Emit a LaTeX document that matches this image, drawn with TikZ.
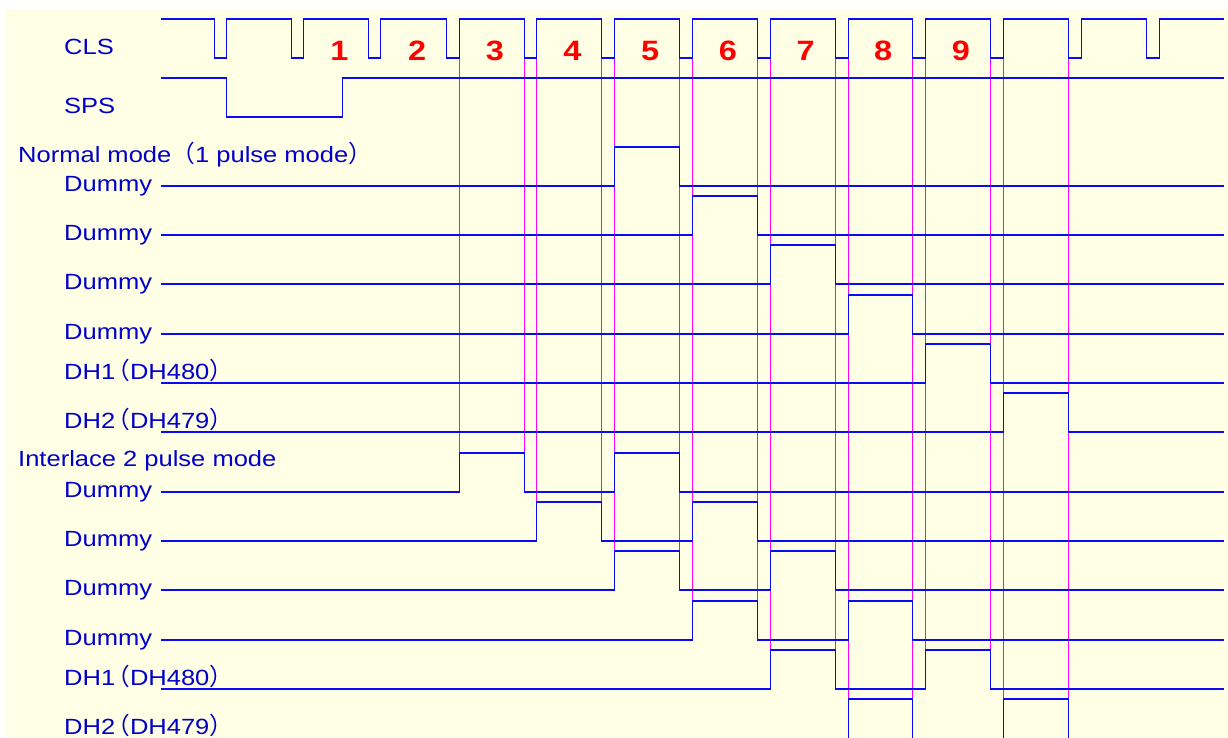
\documentclass[tikz,border=0pt]{standalone}
\usepackage{fontspec}
\setmainfont{Liberation Sans}
\newfontfamily\labf[FakeStretch=1.16]{Liberation Sans}
\newfontfamily\cjkf[Scale=1.08]{Noto Sans CJK SC}
\definecolor{bgc}{RGB}{255,255,230}
\definecolor{sigc}{RGB}{10,10,245}
\definecolor{txtc}{RGB}{0,0,200}
\definecolor{magc}{RGB}{255,0,255}
\definecolor{numc}{RGB}{255,0,0}
\tikzset{
  sig/.style={draw=sigc, line width=1.7pt, line join=miter},
  guide/.style={draw=magc, line width=1.5pt},
  lab/.style={font=\labf\fontsize{22}{24}\selectfont, text=txtc, inner sep=0pt, anchor=base west},
  num/.style={font=\labf\bfseries\fontsize{28}{30}\selectfont, text=numc, inner sep=0pt, anchor=base},
}
% #1 = low level y, #2 = list of rise/fall x pairs
\newcommand\wavrow[2]{\draw[sig] (161,#1) \foreach \a/\b in {#2}{ -- (\a,#1) -- (\a,#1-39) -- (\b,#1-39) -- (\b,#1)} -- (1224,#1);}
\begin{document}
\begin{tikzpicture}[x=1pt,y=-1pt]
\useasboundingbox (0,0) rectangle (1228,737);
\clip (0,0) rectangle (1228,737);
\fill[bgc] (5,9) rectangle (1228,737);
% guide lines at the clock edges, down to the last interlace pulse of that slot
\foreach \x/\e in {459/453,524/453,536/502,601/502,614/551,679/551,692/601,757/601,
                   770/650,835/650,848/699,912/699,925/650,990/650,1003/699,1068/699}
  \draw[guide] (\x+0.5,58) -- (\x+0.5,\e);
% CLS
\draw[sig] (161,19) \foreach \a/\b in {214/226,291/303,368/380,446/459,524/536,601/614,679/692,757/770,835/848,912/925,990/1003,1068/1081,1146/1159}
  { -- (\a+0.5,19) -- (\a+0.5,58) -- (\b+0.5,58) -- (\b+0.5,19)} -- (1224,19);
% SPS
\draw[sig] (161,78) -- (226.5,78) -- (226.5,117) -- (342.5,117) -- (342.5,78) -- (1224,78);
% normal mode (1 pulse mode)
\wavrow{186}{614.5/679.5}
\wavrow{235}{692.5/757.5}
\wavrow{284}{770.5/835.5}
\wavrow{334}{848.5/912.5}
\wavrow{383}{925.5/990.5}
\wavrow{432}{1003.5/1068.5}
% interlace 2 pulse mode
\wavrow{492}{459.5/524.5,614.5/679.5}
\wavrow{541}{536.5/601.5,692.5/757.5}
\wavrow{590}{614.5/679.5,770.5/835.5}
\wavrow{640}{692.5/757.5,848.5/912.5}
\wavrow{689}{770.5/835.5,925.5/990.5}
% last row: its low level lies below the lower edge
\draw[sig] (848.5,742) -- (848.5,699) -- (912.5,699) -- (912.5,742);
\draw[sig] (1003.5,742) -- (1003.5,699) -- (1068.5,699) -- (1068.5,742);
% numbers
\foreach \n in {1,...,9} \node[num] (n\n) at ({339.5+77.67*(\n-1)},60) {\n};
% labels
\node[lab] (cls) at (64,54.5) {CLS};
\node[lab] (sps) at (64,113) {SPS};
\node[lab] (normal) at (18,162.3) {Normal mode{\cjkf （}1 pulse mode{\cjkf ）}};
\node[lab] (nd1) at (64,191) {Dummy};
\node[lab] (nd2) at (64,240) {Dummy};
\node[lab] (nd3) at (64,289) {Dummy};
\node[lab] (nd4) at (64,339) {Dummy};
\node[lab] (ndh1) at (64,379.5) {DH1\kern-9pt{\cjkf （}DH480{\cjkf ）}};
\node[lab] (ndh2) at (64,428.5) {DH2\kern-9pt{\cjkf （}DH479{\cjkf ）}};
\node[lab] (inter) at (18,466.7) {Interlace 2 pulse mode};
\node[lab] (id1) at (64,497) {Dummy};
\node[lab] (id2) at (64,546) {Dummy};
\node[lab] (id3) at (64,595) {Dummy};
\node[lab] (id4) at (64,645) {Dummy};
\node[lab] (idh1) at (64,685.5) {DH1\kern-9pt{\cjkf （}DH480{\cjkf ）}};
\node[lab] (idh2) at (64,734.5) {DH2\kern-9pt{\cjkf （}DH479{\cjkf ）}};
\end{tikzpicture}
\end{document}
